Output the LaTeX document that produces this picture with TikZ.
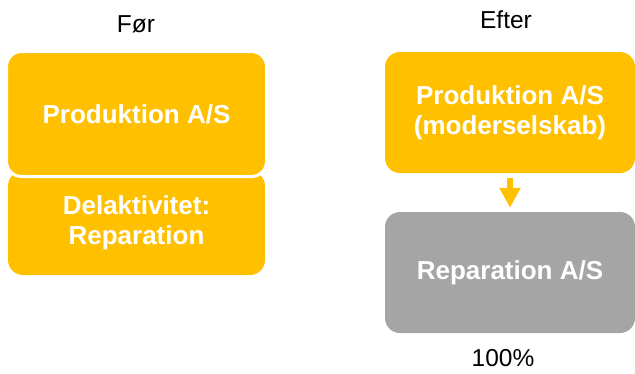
\documentclass[tikz,border=0pt]{standalone}
\usepackage{fontspec}
\setmainfont{Liberation Sans}
\usetikzlibrary{arrows.meta}
\definecolor{gold}{HTML}{FFC000}
\definecolor{greybox}{HTML}{A5A5A5}
\tikzset{
  box/.style={rectangle, rounded corners=15pt, inner sep=0pt, align=center,
    text=white, font=\fontsize{26}{30}\selectfont\bfseries},
  goldbox/.style={box, fill=gold},
  greyb/.style={box, fill=greybox},
  title/.style={font=\fontsize{24.5}{28}\selectfont, text=black, inner sep=0pt},
  blockarrow/.style={draw=gold, line width=6pt, -{Triangle[width=20pt,length=20pt]}}
}
\begin{document}
\begin{tikzpicture}[x=1pt,y=-1pt]
\path[use as bounding box] (0,0) rectangle (635,373);
% Before
\node[title] (for) at (136,24) {Før};
\node[goldbox, minimum width=257pt, minimum height=104pt] (del) at (136.5,223) {Delaktivitet:\\Reparation};
\node[goldbox, draw=white, line width=3pt, minimum width=260pt, minimum height=125pt] (prodL) at (136.5,114) {Produktion A/S};
% After
\node[title] (efter) at (506,20) {Efter};
\node[goldbox, minimum width=250pt, minimum height=121pt] (prodR) at (510,112.5) {Produktion A/S\\(moderselskab)};
\node[greyb, minimum width=250pt, minimum height=121pt] (rep) at (510,272.5) {Reparation A/S};
\node[title] (pct) at (503,358.5) {100\%};
\draw[blockarrow, shorten <=5pt, shorten >=4pt] (prodR.south) -- (rep.north);
\end{tikzpicture}
\end{document}
